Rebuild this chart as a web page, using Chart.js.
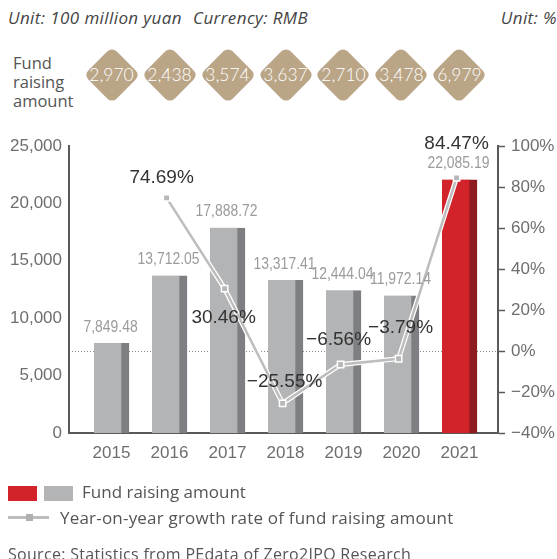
<!DOCTYPE html>
<html>
<head>
<meta charset="utf-8">
<script src="https://cdn.jsdelivr.net/npm/chart.js@4.4.0/dist/chart.umd.min.js"></script>
<style>
    body { margin: 0; width: 557px; height: 559px; position: relative; overflow: hidden; background: #fff;
           font-family: "Open Sans", "DejaVu Sans", sans-serif; color: #555; }
    #chart-wrap { position: absolute; left: 0; top: 0; width: 557px; height: 559px; }
    .txt { position: absolute; white-space: nowrap; font-size: 17px; line-height: 20px; }
    .hdr { font-style: italic; color: #444; top: 8px; font-size: 17px; letter-spacing: 0.4px; }
    .diamond { position: absolute; width: 60px; height: 60px; top: 45px; margin-left: -30px; }
    .diamond::before { content: ""; position: absolute; left: 10px; top: 10px; width: 40px; height: 40px;
                       background: #baa587; border-radius: 6.5px; transform: rotate(45deg); }
    .diamond span { position: absolute; left: -10px; width: 80px; top: 0; line-height: 60px; text-align: center;
                    color: #fff; font-family: Lato, "Open Sans", sans-serif; font-weight: 300; font-size: 17.5px; }
    .swatch { position: absolute; height: 15px; top: 486px; }
</style>
</head>
<body>
<div class="txt hdr" style="left:8px">Unit: 100 million yuan</div>
<div class="txt hdr" style="left:193px">Currency: RMB</div>
<div class="txt hdr" style="right:0px">Unit: %</div>
<div class="txt" style="left:13px;top:52.5px;line-height:19px;font-size:16.5px">Fund<br>raising<br>amount</div>
<div id="diamonds"></div>

<div id="chart-wrap"><canvas id="fund-chart"></canvas></div>

<div class="swatch" style="left:8px;width:29px;background:#d2232a"></div>
<div class="swatch" style="left:44px;width:29px;background:#b3b4b6"></div>
<div class="txt" style="left:82px;top:482px">Fund raising amount</div>
<div style="position:absolute;left:8px;top:516px;width:41px;height:3px;background:#bdbdbd"></div>
<div style="position:absolute;left:26px;top:514px;width:7px;height:7px;background:#b0b0b0"></div>
<div class="txt" style="left:60px;top:508px;letter-spacing:0.2px">Year-on-year growth rate of fund raising amount</div>
<div class="txt" style="left:8px;top:544px;font-size:16px;letter-spacing:0.3px">Source: Statistics from PEdata of Zero2IPO Research</div>

<script>
const years = ['2015', '2016', '2017', '2018', '2019', '2020', '2021']
const fundAmount = [7849.48, 13712.05, 17888.72, 13317.41, 12444.04, 11972.14, 22085.19]
const growthRate = [null, 74.69, 30.46, -25.55, -6.56, -3.79, 84.47]
const fundCount = ['2,970', '2,438', '3,574', '3,637', '2,710', '3,478', '6,979']

// label offsets for the growth values (dx, dy from the point)
const pctOffsets = [null, [-5, -20], [-1, 29], [2, -22], [-2, -25], [2, -31], [0, -34]]

const barData = fundAmount.map((v, i) => ({ x: i, y: v }))
const lineData = growthRate.map((v, i) => ({ x: i, y: v }))

const lightColors = years.map((y, i) => i === years.length - 1 ? '#d2232a' : '#b3b4b6')
const darkColors = years.map((y, i) => i === years.length - 1 ? '#8e1b20' : '#7e7f82')

const fmtPct = v => (v < 0 ? '\u2212' : '') + Math.abs(v).toFixed(2) + '%'

const labelPlugin = {
    id: 'valueLabels',
    afterDatasetsDraw(chart) {
        const ctx = chart.ctx
        ctx.save()
        ctx.textAlign = 'center'
        ctx.textBaseline = 'middle'
        // bar values, narrow look
        ctx.font = '17px "Liberation Sans", Arial, sans-serif'
        ctx.fillStyle = '#9b9b9b'
        chart.getDatasetMeta(2).data.forEach((bar, i) => {
            ctx.save()
            ctx.translate(bar.x - 1, bar.y - 16)
            ctx.scale(0.82, 1)
            ctx.fillText(fundAmount[i].toLocaleString('en-US', { minimumFractionDigits: 2 }), 0, 0)
            ctx.restore()
        })
        // growth values
        ctx.font = '19px "Liberation Sans", Arial, sans-serif'
        ctx.fillStyle = '#333'
        chart.getDatasetMeta(1).data.forEach((pt, i) => {
            if (growthRate[i] === null) return
            const [dx, dy] = pctOffsets[i]
            ctx.fillText(fmtPct(growthRate[i]), pt.x + dx, pt.y + dy)
        })
        ctx.restore()
    }
}

const tickFont = { family: '"Liberation Sans", Arial, sans-serif', size: 17 }
const axisColor = '#58595b'
const xMin = -0.733, xMax = 6.664

const ctx = document.getElementById('fund-chart').getContext('2d')
const chart = new Chart(ctx, {
    type: 'bar',
    data: {
        datasets: [
            {
                type: 'line',
                label: 'casing',
                data: lineData,
                xAxisID: 'x2',
                yAxisID: 'y1',
                borderColor: '#ffffff',
                borderWidth: 5,
                pointRadius: 0,
                order: 2
            },
            {
                type: 'line',
                label: 'Year-on-year growth rate of fund raising amount',
                data: lineData,
                xAxisID: 'x2',
                yAxisID: 'y1',
                borderColor: '#bdbdbd',
                borderWidth: 2.5,
                pointStyle: 'rect',
                pointRadius: 4.5,
                pointBackgroundColor: '#b8b8b8',
                pointBorderColor: '#ffffff',
                pointBorderWidth: 1.5,
                order: 1
            },
            {
                type: 'bar',
                label: 'Fund raising amount',
                data: barData,
                xAxisID: 'x',
                yAxisID: 'y',
                backgroundColor: lightColors,
                borderColor: darkColors,
                borderWidth: { left: 0, top: 0, bottom: 0, right: 8 },
                borderSkipped: false,
                grouped: false,
                barThickness: 35,
                maxBarThickness: 35,
                barPercentage: 1,
                categoryPercentage: 1,
                order: 3
            }
        ]
    },
    options: {
        responsive: true,
        maintainAspectRatio: false,
        animation: false,
        layout: { padding: { top: 146, left: 0, right: 0, bottom: 0 } },
        plugins: {
            legend: { display: false },
            tooltip: { enabled: false }
        },
        scales: {
            x: {
                type: 'linear',
                min: xMin,
                max: xMax,
                offset: false,
                afterBuildTicks: s => { s.ticks = years.map((y, i) => ({ value: i })) },
                afterFit: s => { s.height = 126 },
                ticks: { callback: v => years[v], font: tickFont, color: '#6d6e70', padding: 10 },
                grid: { display: false, drawTicks: false, offset: false },
                border: { color: axisColor, width: 2 }
            },
            x2: {
                type: 'linear',
                display: false,
                offset: false,
                grid: { offset: false },
                min: xMin + 0.05,
                max: xMax + 0.05
            },
            y: {
                position: 'left',
                min: 0,
                max: 25000,
                afterFit: s => { s.width = 69 },
                ticks: { stepSize: 5000, callback: v => v.toLocaleString('en-US'), font: tickFont, color: '#6d6e70', padding: 7 },
                grid: { display: false, drawTicks: false },
                border: { color: axisColor, width: 2 }
            },
            y1: {
                position: 'right',
                min: -40,
                max: 100,
                afterFit: s => { s.width = 59 },
                ticks: { stepSize: 20, callback: v => (v < 0 ? '\u2212' + Math.abs(v) : v) + '%', font: tickFont, color: '#6d6e70', padding: 6 },
                grid: {
                    color: c => (c.tick && c.tick.value === 0) ? '#8a8a8a' : 'rgba(0,0,0,0)',
                    lineWidth: 1,
                    tickColor: axisColor,
                    tickLength: 7,
                    tickWidth: 1.5
                },
                border: { color: axisColor, width: 2, dash: [1, 2] }
            }
        }
    },
    plugins: [labelPlugin]
})

// diamonds row, one per year, placed on the x scale
const diamondBox = document.getElementById('diamonds')
fundCount.forEach((txt, i) => {
    const d = document.createElement('div')
    d.className = 'diamond'
    d.style.left = chart.scales.x.getPixelForValue(i) + 'px'
    d.innerHTML = `<span>${txt}</span>`
    diamondBox.appendChild(d)
})
</script>
</body>
</html>
